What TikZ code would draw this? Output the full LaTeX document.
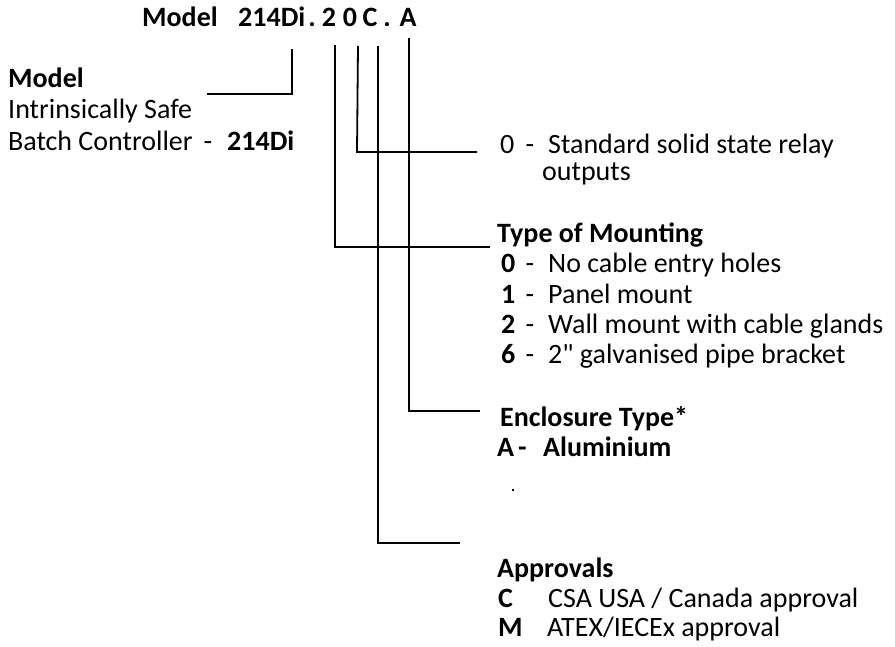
\documentclass[tikz,border=0pt]{standalone}
\usepackage{fontspec}
\setmainfont{Carlito}[Ligatures=TeXOff]
\begin{document}
\begin{tikzpicture}[x=1pt,y=-1pt,
  txt/.style={anchor=base west, inner sep=0pt, font=\fontsize{28}{30}\selectfont},
  btxt/.style={anchor=base west, inner sep=0pt, font=\fontsize{28}{30}\selectfont\bfseries},
  ctxt/.style={anchor=base, inner sep=0pt, font=\fontsize{28}{30}\selectfont\bfseries},
  dtxt/.style={anchor=base, inner sep=0pt, font=\fontsize{28}{30}\selectfont},
  conn/.style={line width=1.8pt, line cap=butt}]
\useasboundingbox (0,0) rectangle (895,646);
% title
\node[btxt] (tmodel) at (142,26) {Model};
\node[btxt] (t214) at (238,26) {214Di};
\node[ctxt] (tdot1) at (312,26) {.};
\node[ctxt] (t2) at (329,26) {2};
\node[ctxt] (t0) at (350,26) {0};
\node[ctxt] (tC) at (370,26) {C};
\node[ctxt] (tdot2) at (387,26) {.};
\node[ctxt] (tA) at (408,26) {A};
% left model text
\node[btxt] (lmodel) at (8,87) {Model};
\node[txt] (lis) at (8,118) {Intrinsically Safe};
\node[txt] (lbc) at (8,150) {Batch Controller};
\node[dtxt] (lbcd) at (208,150) {-};
\node[btxt] (lbcm) at (227,150) {214Di};
% relay outputs
\node[txt] (r0) at (500,153) {0};
\node[dtxt] (rdash) at (530,153) {-};
\node[txt] (r1) at (548,153) {Standard solid state relay};
\node[txt] (r2) at (542,180) {outputs};
% mounting
\node[btxt] (mt) at (497,242) {Type of Mounting};
\node[btxt] (m0k) at (501,272) {0};
\node[dtxt] (m0d) at (530,272) {-};
\node[txt] (m0) at (548,272) {No cable entry holes};
\node[btxt] (m1k) at (501,303) {1};
\node[dtxt] (m1d) at (530,303) {-};
\node[txt] (m1) at (548,303) {Panel mount};
\node[btxt] (m2k) at (501,333) {2};
\node[dtxt] (m2d) at (530,333) {-};
\node[txt] (m2) at (548,333) {Wall mount with cable glands};
\node[btxt] (m6k) at (501,363) {6};
\node[dtxt] (m6d) at (530,363) {-};
\node[txt] (m6) at (548,363) {2" galvanised pipe bracket};
% enclosure
\node[btxt] (et) at (500,426) {Enclosure Type*};
\node[btxt] (eak) at (497,456) {A};
\node[btxt] (ead) at (518,456) {-};
\node[btxt] (ea) at (543,456) {Aluminium};
\node[inner sep=0pt, minimum width=2pt, minimum height=1.5pt, fill=black] (edot) at (513,490) {};
% approvals
\node[btxt] (at) at (497,577) {Approvals};
\node[btxt] (ack) at (498,607) {C};
\node[txt] (ac) at (548,607) {CSA USA / Canada approval};
\node[btxt] (amk) at (498,636) {M};
\node[txt] (am) at (547,636) {ATEX/IECEx approval};
% connector points
\coordinate (pm1) at (292,49);
\coordinate (pm2) at (207,94);
\coordinate (p21) at (335,45);
\coordinate (p22) at (490,247);
\coordinate (p01) at (358,46);
\coordinate (p0c) at (357,152);
\coordinate (p02) at (477,152);
\coordinate (pC1) at (378,46);
\coordinate (pC2) at (460,543);
\coordinate (pA1) at (409,38);
\coordinate (pA2) at (480,411);
\draw[conn] (pm1) |- (pm2);
\draw[conn] (p21) |- (p22);
\draw[conn] (p01) -- (p0c) -- (p02);
\draw[conn] (pC1) |- (pC2);
\draw[conn] (pA1) |- (pA2);
\end{tikzpicture}
\end{document}
